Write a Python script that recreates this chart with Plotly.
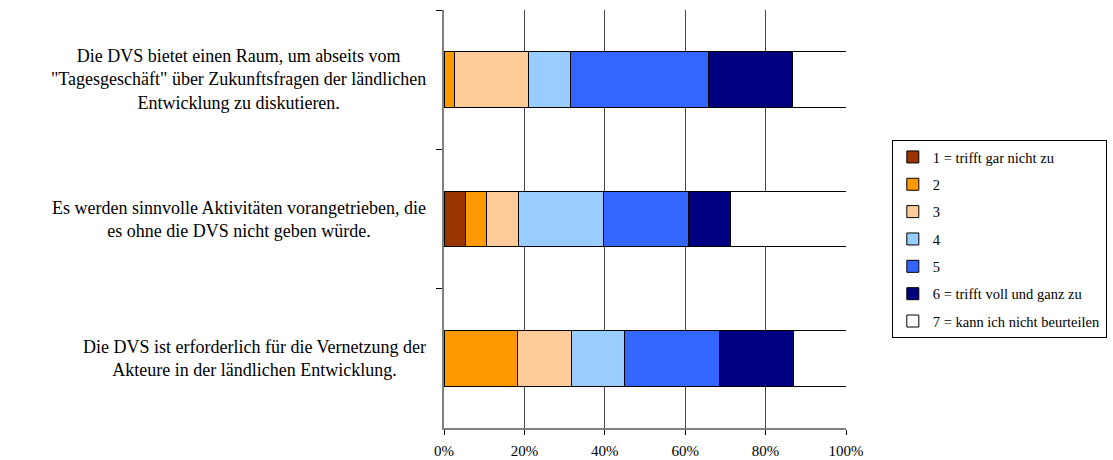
import plotly.graph_objects as go

statements = [
    "Die DVS bietet einen Raum, um abseits vom<br>\"Tagesgeschäft\" über Zukunftsfragen der ländlichen<br>Entwicklung zu diskutieren.",
    "Es werden sinnvolle Aktivitäten vorangetrieben, die<br>es ohne die DVS nicht geben würde.",
    "Die DVS ist erforderlich für die Vernetzung der<br>Akteure in der ländlichen Entwicklung.",
]
series_names = [
    "1 = trifft gar nicht zu",
    "2",
    "3",
    "4",
    "5",
    "6 = trifft voll und ganz zu",
    "7 = kann ich nicht beurteilen",
]
# shares (%) per statement, top to bottom
v1 = [0.0, 5.3, 0.0]
v2 = [2.6, 5.3, 18.4]
v3 = [18.4, 7.9, 13.2]
v4 = [10.5, 21.1, 13.2]
v5 = [34.2, 21.1, 23.7]
v6 = [21.1, 10.5, 18.4]
v7 = [13.2, 28.9, 13.2]
values = [v1, v2, v3, v4, v5, v6, v7]
colors = ["#993300", "#FF9900", "#FFCC99", "#99CCFF", "#3366FF", "#000080", "#FFFFFF"]
x_ticks = [0, 20, 40, 60, 80, 100]
x_tick_labels = ["0%", "20%", "40%", "60%", "80%", "100%"]

serif = "Liberation Serif"

fig = go.Figure()
for i, (name, vals, col) in enumerate(zip(series_names, values, colors)):
    fig.add_trace(go.Bar(
        y=statements, x=vals, name=name, orientation="h",
        marker=dict(color=col, line=dict(color="#000000", width=1)),
        legendgroup=f"g{i}", cliponaxis=False,
    ))

for s in statements:
    fig.add_annotation(
        x=0, xref="paper", y=s, yref="y", text=s, showarrow=False,
        xanchor="right", yanchor="middle", align="center", xshift=-16,
        font=dict(family=serif, size=18, color="#000000"),
    )

fig.update_layout(
    width=1113, height=460,
    margin=dict(l=444, r=267, t=10, b=32, autoexpand=False),
    barmode="stack", bargap=0.6,
    plot_bgcolor="#FFFFFF", paper_bgcolor="#FFFFFF",
    font=dict(family=serif, size=14, color="#000000"),
    showlegend=True,
    legend=dict(
        x=1.114, y=0.689, xanchor="left", yanchor="top",
        bordercolor="#000000", borderwidth=1,
        font=dict(family=serif, size=14.5, color="#000000"),
        tracegroupgap=5.5, traceorder="grouped",
        itemwidth=30,
    ),
)
fig.update_xaxes(
    range=[0, 100], tickvals=x_ticks, ticktext=x_tick_labels,
    showgrid=True, gridcolor="#444444", gridwidth=1,
    showline=True, linecolor="#808080", linewidth=2,
    ticks="outside", ticklen=5, tickcolor="#000000",
    tickfont=dict(family=serif, size=15), zeroline=False,
    ticklabelstandoff=3, automargin=False,
)
fig.update_yaxes(
    autorange="reversed", showticklabels=False, tickson="boundaries",
    ticks="outside", ticklen=6, tickcolor="#000000",
    showline=True, linecolor="#808080", linewidth=2, showgrid=False,
    automargin=False,
)

fig.write_html("out.html")
